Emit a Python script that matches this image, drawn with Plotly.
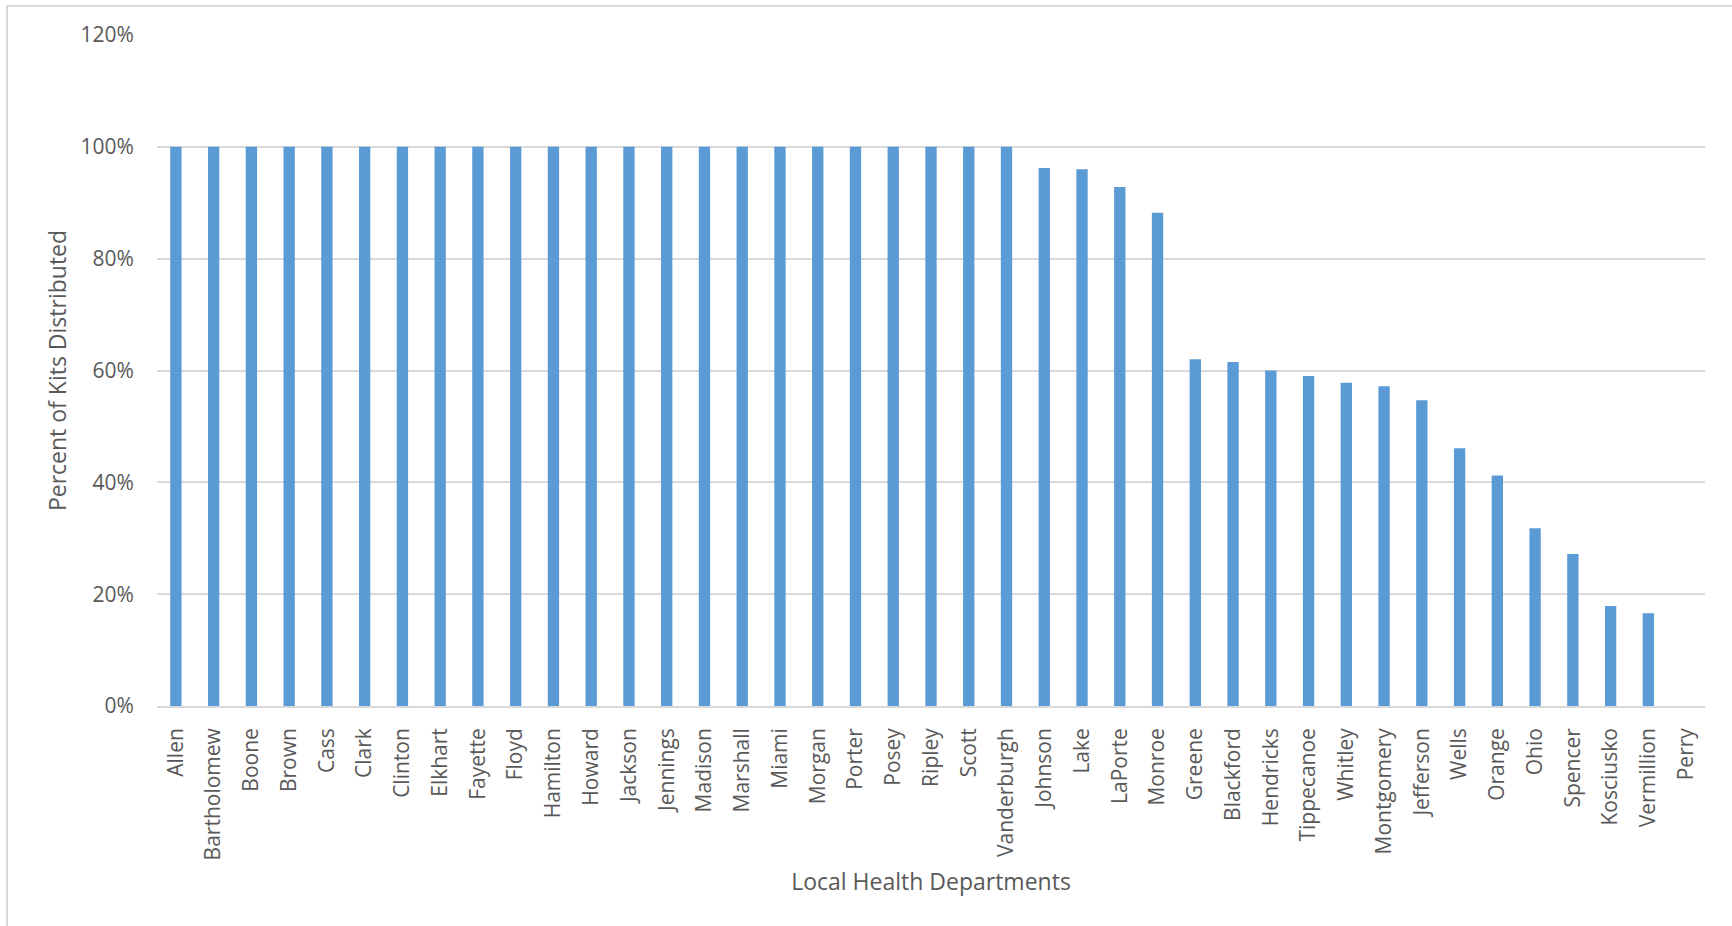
import plotly.graph_objects as go

# Local health departments and share of kits distributed (fraction of 1)
departments = [
    "Allen", "Bartholomew", "Boone", "Brown", "Cass", "Clark", "Clinton",
    "Elkhart", "Fayette", "Floyd", "Hamilton", "Howard", "Jackson", "Jennings",
    "Madison", "Marshall", "Miami", "Morgan", "Porter", "Posey", "Ripley",
    "Scott", "Vanderburgh", "Johnson", "Lake", "LaPorte", "Monroe", "Greene",
    "Blackford", "Hendricks", "Tippecanoe", "Whitley", "Montgomery",
    "Jefferson", "Wells", "Orange", "Ohio", "Spencer", "Kosciusko",
    "Vermillion", "Perry",
]
pct_distributed = [
    1.00, 1.00, 1.00, 1.00, 1.00, 1.00, 1.00,
    1.00, 1.00, 1.00, 1.00, 1.00, 1.00, 1.00,
    1.00, 1.00, 1.00, 1.00, 1.00, 1.00, 1.00,
    1.00, 1.00, 0.962, 0.960, 0.928, 0.882, 0.620,
    0.615, 0.600, 0.590, 0.578, 0.572,
    0.547, 0.461, 0.412, 0.318, 0.272, 0.179,
    0.166, 0.0,
]
y_ticks = [0, 0.2, 0.4, 0.6, 0.8, 1.0, 1.2]

W, H = 1732, 926
ML, MR, MT, MB = 157, 27, 35, 220
TEXT = "#595959"
GRID = "#d9d9d9"
FONT = "Open Sans"

fig = go.Figure(
    go.Bar(
        x=departments,
        y=pct_distributed,
        marker=dict(color="#5b9bd5", line=dict(width=0)),
        hoverinfo="x+y",
    )
)

fig.update_layout(
    width=W,
    height=H,
    margin=dict(l=ML, r=MR, t=MT, b=MB),
    paper_bgcolor="white",
    plot_bgcolor="white",
    bargap=0.7,
    showlegend=False,
    font=dict(family=FONT, color=TEXT, size=21),
)

fig.update_xaxes(
    tickangle=-90,
    tickfont=dict(family=FONT, size=21, color=TEXT),
    ticks="outside",
    ticklen=12,
    tickcolor="rgba(0,0,0,0)",
    showline=True,
    linecolor=GRID,
    linewidth=1.5,
    showgrid=False,
    title=dict(
        text="Local Health Departments",
        font=dict(family=FONT, size=23, color=TEXT),
        standoff=14,
    ),
)

fig.update_yaxes(
    range=[0, 1.2],
    tickvals=y_ticks,
    tickformat=".0%",
    tickfont=dict(family=FONT, size=21, color=TEXT),
    ticks="outside",
    ticklen=18,
    tickcolor="rgba(0,0,0,0)",
    showgrid=True,
    gridcolor=GRID,
    gridwidth=1.5,
    zeroline=False,
    showline=False,
    title=dict(
        text="Percent of Kits Distributed",
        font=dict(family=FONT, size=23, color=TEXT),
        standoff=7,
    ),
)

# Chart-area border (left and top edges visible inside the page)
pw = W - ML - MR
ph = H - MT - MB
fig.add_shape(
    type="rect",
    xref="paper",
    yref="paper",
    x0=(7 - ML) / pw,
    x1=(W + 10 - ML) / pw,
    y0=-(H + 10 - MT - ph) / ph,
    y1=(MT - 6) / ph + 1,
    line=dict(color=GRID, width=2),
    fillcolor="rgba(0,0,0,0)",
    layer="below",
)

fig.write_html("out.html")
